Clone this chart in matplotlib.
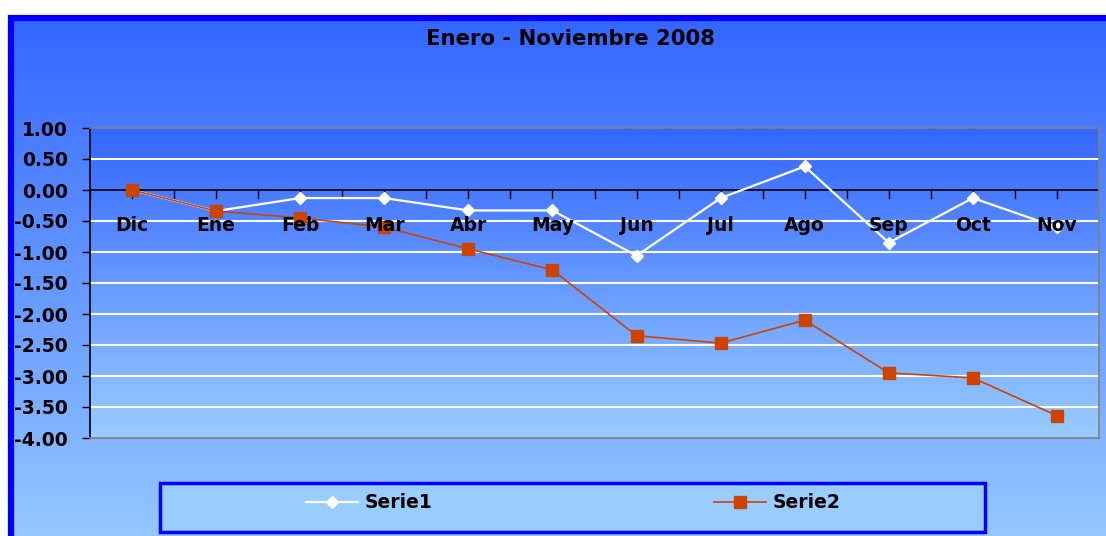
import numpy as np
import matplotlib.pyplot as plt
from matplotlib.patches import Rectangle
from matplotlib.lines import Line2D

# =============================================================================
# Data
months = ["Dic", "Ene", "Feb", "Mar", "Abr", "May", "Jun", "Jul", "Ago", "Sep", "Oct", "Nov"]
serie1 = [0.00, -0.34, -0.13, -0.13, -0.33, -0.33, -1.06, -0.13, 0.38, -0.85, -0.13, -0.60]
serie2 = [0.00, -0.34, -0.45, -0.60, -0.95, -1.29, -2.35, -2.47, -2.10, -2.95, -3.03, -3.64]
yticks = [1.0, 0.5, 0.0, -0.5, -1.0, -1.5, -2.0, -2.5, -3.0, -3.5, -4.0]
ytick_labels = ["1.00", "0.50", "0.00", "-0.50", "-1.00", "-1.50", "-2.00", "-2.50",
                "-3.00", "-3.50", "-4.00"]

TOP_BLUE = np.array([0x33, 0x66, 0xFF]) / 255
BOT_BLUE = np.array([0x99, 0xCC, 0xFF]) / 255
ORANGE = "#CC4400"
FS = 13.5

W, H = 1106, 536
fig = plt.figure(figsize=(W / 100, H / 100), dpi=100, facecolor="white")


def px(x0, y0, x1, y1):
    """pixel box (top-left origin) -> figure fraction rect"""
    return [x0 / W, 1 - y1 / H, (x1 - x0) / W, (y1 - y0) / H]


def gradient(n=256):
    t = np.linspace(0, 1, n)[:, None]
    return (TOP_BLUE * (1 - t) + BOT_BLUE * t)[:, None, :]


# =============================================================================
# Chart background with gradient and blue frame
bg = fig.add_axes(px(11, 18, 1130, 560), zorder=-5)
bg.imshow(gradient(), aspect="auto", extent=[0, 1, 0, 1], origin="upper")
bg.set_axis_off()
fig.patches.append(Rectangle((11 / W, -0.1), 1.2, 1 - 18 / H + 0.1,
                             transform=fig.transFigure, fill=False,
                             edgecolor="#0000FF", lw=4.5, zorder=-4))

# =============================================================================
# Plot area
ax = fig.add_axes(px(90, 128, 1099, 438))
ax.imshow(gradient(), aspect="auto", extent=[0, 1, 0, 1], origin="upper",
          transform=ax.transAxes, zorder=0)

x = np.arange(len(months))
ax.set_xlim(-0.5, len(months) - 0.5)
ax.set_ylim(-4, 1)

for y in yticks:
    if y in (1.0, -4.0, 0.0):
        continue
    ax.axhline(y, color="white", lw=1.5, zorder=1)
ax.axhline(0, color="black", lw=1.2, zorder=2)
for xt in np.arange(-0.5, len(months), 0.5):
    ax.plot([xt, xt], [0, -0.13], color="black", lw=1, zorder=2)

ax.plot(x, serie1, color="white", lw=1.6, marker="D", ms=6.5, mfc="white",
        mec="white", zorder=3)
ax.plot(x, serie2, color=ORANGE, lw=1.2, marker="s", ms=8.5, mfc=ORANGE,
        mec=ORANGE, zorder=4)

for i, m in enumerate(months):
    ax.text(i, -0.57, m, ha="center", va="center", fontsize=FS,
            fontweight="bold", zorder=6)

ax.set_xticks([])
ax.set_yticks(yticks)
ax.set_yticklabels(ytick_labels, fontsize=FS, fontweight="bold")
ax.tick_params(axis="y", direction="out", length=6, width=1, pad=10, colors="black")
for side in ("top", "right", "bottom"):
    ax.spines[side].set_color("#808080")
    ax.spines[side].set_linewidth(1.2)
ax.spines["left"].set_color("black")
ax.spines["left"].set_linewidth(1.2)

fig.text(570 / W, 1 - 39 / H, "Enero - Noviembre 2008", ha="center", va="center",
         fontsize=15.3, fontweight="bold")

# =============================================================================
# Legend
fig.patches.append(Rectangle((160 / W, 1 - 532 / H), 825 / W, 49 / H,
                             transform=fig.transFigure, facecolor=BOT_BLUE,
                             edgecolor="#0000FF", lw=2.5, zorder=5))
handles = [
    Line2D([], [], color="white", lw=1.6, marker="D", ms=6, mfc="white", mec="white"),
    Line2D([], [], color=ORANGE, lw=1.2, marker="s", ms=8.5, mfc=ORANGE, mec=ORANGE),
]
leg = fig.legend(handles, ["Serie1", "Serie2"], loc="center",
                 bbox_to_anchor=(573 / W, 1 - 503 / H), ncol=2, frameon=False,
                 prop={"size": FS, "weight": "bold"}, handlelength=2.8,
                 handletextpad=0.35, columnspacing=15.0)
leg.set_zorder(6)

fig.savefig("out.png", dpi=100, facecolor="white")
